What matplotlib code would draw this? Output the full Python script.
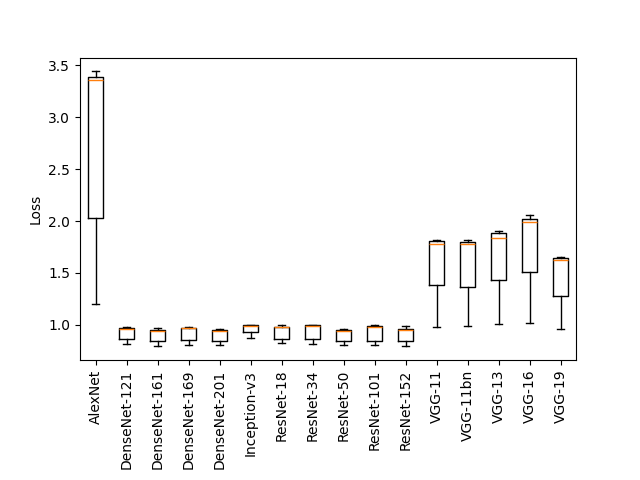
import matplotlib
matplotlib.use("Agg")
import matplotlib.pyplot as plt

models = ["AlexNet", "DenseNet-121", "DenseNet-161", "DenseNet-169", "DenseNet-201",
          "Inception-v3", "ResNet-18", "ResNet-34", "ResNet-50", "ResNet-101",
          "ResNet-152", "VGG-11", "VGG-11bn", "VGG-13", "VGG-16", "VGG-19"]

# box statistics
whis_lo = [1.20, 0.815, 0.795, 0.808, 0.805, 0.872, 0.824, 0.814, 0.805, 0.808,
           0.798, 0.98, 0.987, 1.007, 1.016, 0.962]
q1 = [2.026, 0.862, 0.846, 0.853, 0.843, 0.93, 0.868, 0.868, 0.843, 0.849,
      0.843, 1.38, 1.368, 1.433, 1.51, 1.276]
med = [3.36, 0.965, 0.945, 0.97, 0.945, 0.99, 0.98, 0.99, 0.94, 0.98,
       0.955, 1.776, 1.78, 1.84, 1.987, 1.625]
q3 = [3.39, 0.972, 0.949, 0.975, 0.948, 1.0, 0.984, 0.995, 0.956, 0.99,
      0.96, 1.805, 1.795, 1.88, 2.022, 1.641]
whis_hi = [3.44, 0.978, 0.968, 0.98, 0.96, 1.0, 1.003, 1.0, 0.962, 0.997,
           0.99, 1.814, 1.817, 1.904, 2.058, 1.654]

stats = []
for i in range(len(models)):
    stats.append({"label": models[i], "whislo": whis_lo[i], "q1": q1[i],
                  "med": med[i], "q3": q3[i], "whishi": whis_hi[i], "fliers": []})

fig, ax = plt.subplots(figsize=(6.4, 4.8), dpi=100)
ax.bxp(stats, showfliers=False)
ax.set_ylabel("Loss")
plt.xticks(rotation=90)
fig.subplots_adjust(bottom=0.25)
fig.savefig("out.png")
